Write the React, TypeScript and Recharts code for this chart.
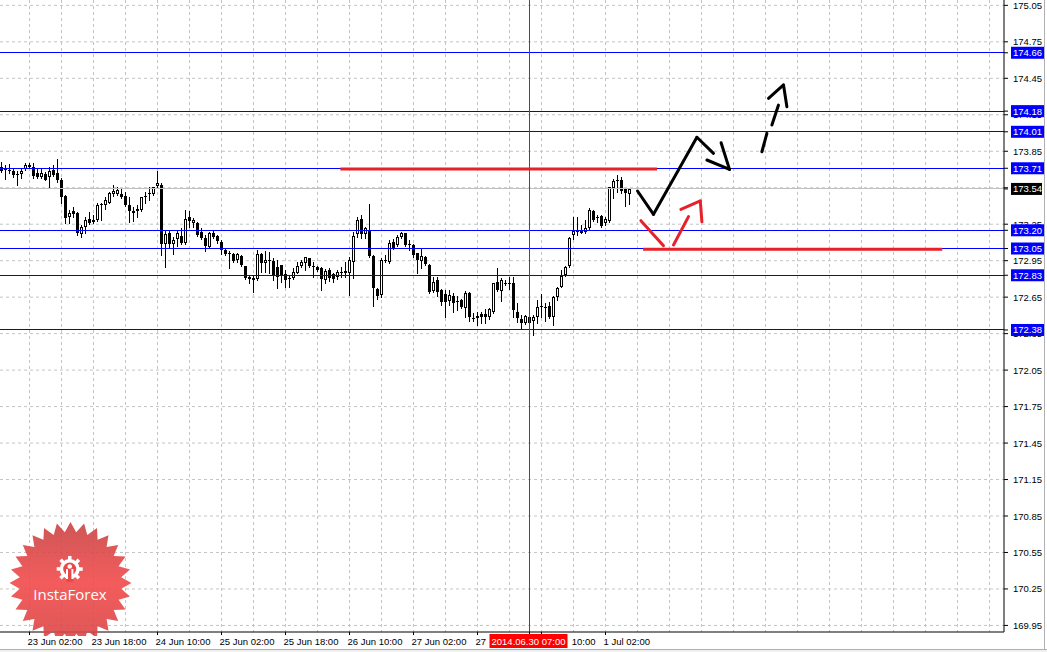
import React from "react";
import { ComposedChart, Bar, XAxis, YAxis, ReferenceLine, CartesianGrid } from "recharts";

// GBPJPY H1 candles
const opens = [
  173.717, 173.702, 173.696, 173.687, 173.662, 173.663, 173.701, 173.717, 173.723, 173.668,
  173.635, 173.663, 173.635, 173.696, 173.668, 173.613, 173.482, 173.312, 173.361, 173.345,
  173.169, 173.23, 173.293, 173.284, 173.284, 173.408, 173.408, 173.427, 173.495, 173.498,
  173.498, 173.482, 173.408, 173.361, 173.372, 173.367, 173.48, 173.495, 173.498, 173.564,
  173.572, 173.087, 173.18, 173.087, 173.125, 173.153, 173.092, 173.306, 173.257, 173.262,
  173.188, 173.133, 173.059, 173.18, 173.153, 173.106, 173.037, 173.016, 173.005, 172.955,
  172.988, 172.906, 172.818, 172.79, 172.796, 173.005, 172.928, 172.95, 172.95, 172.895,
  172.914, 172.84, 172.805, 172.804, 172.851, 172.906, 172.928, 172.969, 172.906, 172.9,
  172.89, 172.791, 172.873, 172.84, 172.813, 172.851, 172.868, 172.851, 172.942, 173.169,
  173.29, 173.169, 173.202, 172.988, 172.714, 172.668, 172.958, 172.942, 173.106, 173.079,
  173.142, 173.175, 173.09, 173.079, 173.01, 172.95, 172.983, 172.914, 172.703, 172.791,
  172.709, 172.676, 172.621, 172.659, 172.615, 172.627, 172.558, 172.687, 172.476, 172.476,
  172.514, 172.512, 172.49, 172.531, 172.778, 172.703, 172.77, 172.756, 172.769, 172.531,
  172.468, 172.435, 172.49, 172.457, 172.49, 172.577, 172.572, 172.577, 172.49, 172.654,
  172.736, 172.832, 172.906, 173.161, 173.197, 173.202, 173.189, 173.216, 173.361, 173.307,
  173.317, 173.257, 173.279, 173.545, 173.612, 173.614, 173.545, 173.498,
];
const highs = [
  173.764, 173.737, 173.745, 173.709, 173.69, 173.709, 173.75, 173.756, 173.75, 173.709,
  173.709, 173.682, 173.723, 173.737, 173.786, 173.627, 173.49, 173.367, 173.394, 173.353,
  173.243, 173.312, 173.353, 173.325, 173.421, 173.421, 173.476, 173.517, 173.572, 173.558,
  173.545, 173.517, 173.476, 173.394, 173.408, 173.476, 173.517, 173.558, 173.558, 173.69,
  173.586, 173.202, 173.202, 173.147, 173.202, 173.216, 173.366, 173.361, 173.298, 173.27,
  173.216, 173.161, 173.188, 173.202, 173.161, 173.12, 173.051, 173.032, 173.01, 173.01,
  172.996, 172.91, 172.822, 172.832, 173.037, 173.01, 173.032, 173.024, 172.969, 172.955,
  172.918, 172.873, 172.832, 172.887, 172.941, 172.955, 172.983, 172.973, 172.941, 172.906,
  172.9, 172.879, 172.887, 172.846, 172.873, 172.895, 172.942, 172.983, 173.188, 173.312,
  173.325, 173.23, 173.416, 172.996, 172.722, 172.969, 172.996, 173.12, 173.125, 173.161,
  173.188, 173.18, 173.12, 173.087, 173.016, 173.051, 172.987, 172.923, 172.813, 172.813,
  172.714, 172.709, 172.709, 172.681, 172.659, 172.631, 172.703, 172.695, 172.517, 172.53,
  172.527, 172.55, 172.558, 172.769, 172.887, 172.805, 172.791, 172.819, 172.819, 172.605,
  172.503, 172.503, 172.503, 172.503, 172.627, 172.676, 172.605, 172.613, 172.66, 172.737,
  172.873, 172.906, 173.142, 173.312, 173.306, 173.244, 173.285, 173.38, 173.367, 173.326,
  173.326, 173.312, 173.559, 173.619, 173.655, 173.641, 173.549, 173.545,
];
const lows = [
  173.682, 173.619, 173.668, 173.641, 173.575, 173.627, 173.696, 173.709, 173.627, 173.627,
  173.627, 173.61, 173.558, 173.646, 173.6, 173.427, 173.262, 173.262, 173.312, 173.161,
  173.142, 173.18, 173.251, 173.257, 173.279, 173.284, 173.372, 173.421, 173.482, 173.49,
  173.463, 173.4, 173.271, 173.279, 173.312, 173.361, 173.421, 173.449, 173.49, 173.558,
  172.997, 172.9, 173.051, 173.005, 173.07, 173.087, 173.087, 173.229, 173.229, 173.153,
  173.125, 173.032, 173.051, 173.133, 173.092, 173.005, 172.996, 172.887, 172.941, 172.941,
  172.906, 172.796, 172.763, 172.695, 172.791, 172.859, 172.859, 172.845, 172.791, 172.722,
  172.777, 172.736, 172.736, 172.796, 172.845, 172.895, 172.873, 172.895, 172.813, 172.867,
  172.71, 172.764, 172.785, 172.777, 172.796, 172.813, 172.818, 172.668, 172.805, 173.147,
  173.134, 173.134, 172.983, 172.577, 172.632, 172.648, 172.942, 172.933, 173.043, 173.07,
  173.134, 173.071, 173.038, 172.983, 172.851, 172.887, 172.914, 172.681, 172.695, 172.659,
  172.585, 172.489, 172.585, 172.531, 172.544, 172.558, 172.489, 172.457, 172.457, 172.421,
  172.435, 172.435, 172.468, 172.523, 172.703, 172.621, 172.75, 172.72, 172.49, 172.449,
  172.394, 172.429, 172.435, 172.339, 172.44, 172.49, 172.457, 172.476, 172.421, 172.627,
  172.731, 172.824, 172.901, 173.126, 173.161, 173.175, 173.18, 173.208, 173.279, 173.271,
  173.23, 173.244, 173.271, 173.463, 173.518, 173.504, 173.402, 173.416,
];
const closes = [
  173.69, 173.692, 173.685, 173.654, 173.658, 173.687, 173.737, 173.737, 173.646, 173.641,
  173.674, 173.613, 173.69, 173.654, 173.613, 173.471, 173.298, 173.345, 173.334, 173.175,
  173.224, 173.284, 173.257, 173.268, 173.408, 173.416, 173.449, 173.504, 173.526, 173.531,
  173.471, 173.408, 173.358, 173.339, 173.356, 173.471, 173.484, 173.509, 173.553, 173.586,
  173.087, 173.169, 173.087, 173.12, 173.174, 173.092, 173.29, 173.279, 173.284, 173.161,
  173.133, 173.07, 173.18, 173.142, 173.114, 173.037, 173.005, 173.013, 172.95, 173.005,
  172.914, 172.804, 172.796, 172.804, 173.005, 172.928, 172.955, 172.958, 172.832, 172.818,
  172.832, 172.791, 172.799, 172.859, 172.906, 172.941, 172.977, 172.906, 172.895, 172.873,
  172.8, 172.868, 172.805, 172.796, 172.86, 172.854, 172.846, 172.955, 173.153, 173.284,
  173.169, 173.216, 172.988, 172.722, 172.659, 172.955, 172.955, 173.092, 173.051, 173.147,
  173.18, 173.079, 173.082, 172.996, 172.955, 172.988, 172.923, 172.695, 172.777, 172.695,
  172.613, 172.613, 172.668, 172.599, 172.613, 172.566, 172.681, 172.484, 172.475, 172.495,
  172.49, 172.484, 172.55, 172.764, 172.709, 172.791, 172.769, 172.769, 172.545, 172.476,
  172.435, 172.495, 172.44, 172.484, 172.572, 172.58, 172.57, 172.484, 172.649, 172.723,
  172.824, 172.901, 173.134, 173.197, 173.194, 173.18, 173.216, 173.367, 173.285, 173.305,
  173.235, 173.29, 173.553, 173.608, 173.614, 173.526, 173.504, 173.54,
];

const SLOTS = 251; // bar slots across the plot, incl. empty future space
const yTicks = [
  175.05, 174.75, 174.45, 174.15, 173.85, 173.55, 173.25, 172.95, 172.65,
  172.35, 172.05, 171.75, 171.45, 171.15, 170.85, 170.55, 170.25, 169.95,
];
const hiddenYLabels = [173.55]; // fully covered by the bid box
const levels = [174.66, 174.18, 174.01, 173.71, 173.2, 173.05, 172.83, 172.38];
const bid = 173.54;
const xTickIdx = [7, 23, 39, 55, 71, 87, 103, 119, 135, 151];
const xTickLabels = [
  "23 Jun 02:00", "23 Jun 18:00", "24 Jun 10:00", "25 Jun 02:00", "25 Jun 18:00",
  "26 Jun 10:00", "27 Jun 02:00", "27", "10:00", "1 Jul 02:00",
];
const cursorIdx = 132;
const cursorLabel = "2014.06.30 07:00";
const gridX = Array.from({ length: 31 }, (_, k) => 7 + 8 * k);

// hand-drawn forecast marks, in (bar index, price)
const redLevels = [
  { from: 84.7, to: 163.9, price: 173.705 },
  { from: 160.4, to: 235.2, price: 173.045 },
];
const blackPath = [[159, 173.523], [163, 173.331], [173.85, 173.965], [178, 173.833]];
const blackHead = [[176.35, 173.778], [182, 173.701], [179.9, 173.92]];
const dashPieces = [
  [[190.1, 173.846], [191.35, 173.997]],
  [[192.6, 174.066], [194.25, 174.23]],
];
const dashHead = [[191.75, 174.285], [195.5, 174.395], [196.35, 174.216]];
const redPieces = [
  [[159.85, 173.279], [165.5, 173.073]],
  [[168, 173.079], [171.75, 173.312]],
];
const redHead = [[169.85, 173.372], [174.7, 173.441], [175.1, 173.27]];

const data = Array.from({ length: SLOTS }, (_, i) => ({
  i,
  o: opens[i],
  h: highs[i],
  l: lows[i],
  c: closes[i],
}));

const RED = "#e62129";
const BLUE = "#0000ff";
const FONT = "'Liberation Sans', Arial, sans-serif";

const segs = (pts: number[][]) => pts.slice(1).map((p, k) => [pts[k], p]);

const Candle = (props: any) => {
  const { x, y, width, height, payload } = props;
  if (!payload || payload.o === undefined || !(height > 0)) return <g />;
  const { o, h, l, c } = payload;
  const k = height / (h - l);
  const yOf = (p: number) => y + (h - p) * k;
  const cx = x + width / 2;
  const wx = cx - 0.5;
  const top = Math.round(yOf(Math.max(o, c)));
  const bot = Math.round(yOf(Math.min(o, c)));
  const bull = c > o;
  return (
    <g shapeRendering="crispEdges">
      <line x1={wx} x2={wx} y1={Math.round(yOf(h))} y2={Math.round(yOf(l)) + 1} stroke="#000" />
      {bull && bot - top >= 2 ? (
        <rect x={cx - 1.5} y={top + 0.5} width={2} height={bot - top - 1} fill="#fff" stroke="#000" />
      ) : (
        <rect x={cx - 2} y={top} width={3} height={Math.max(1, bot - top)} fill="#000" />
      )}
    </g>
  );
};

const XTick = (props: any) => {
  const { x, y, payload } = props;
  const v = payload.value;
  if (v === cursorIdx) {
    return (
      <g>
        <rect x={x - 40} y={y - 1} width={78} height={14} fill="#ff0000" />
        <text x={x - 1} y={y + 10} textAnchor="middle" fill="#fff" fontSize={9.5} fontFamily={FONT}>
          {cursorLabel}
        </text>
      </g>
    );
  }
  const k = xTickIdx.indexOf(v);
  const label = xTickLabels[k];
  // the label right of the cursor box only shows its tail
  if (label === "10:00") {
    return (
      <text x={x + 54} y={y + 10} textAnchor="end" fill="#000" fontSize={9.5} fontFamily={FONT}>
        {label}
      </text>
    );
  }
  return (
    <text x={x - 2} y={y + 10} fill="#000" fontSize={9.5} fontFamily={FONT}>
      {label}
    </text>
  );
};

const YTick = (props: any) => {
  const { x, y, payload } = props;
  const v = payload.value;
  const label = v.toFixed(2);
  if (v === bid || levels.includes(v)) {
    return (
      <g>
        <rect x={x - 1} y={y - 6} width={v === bid ? 31 : 33} height={12} fill={v === bid ? "#000" : BLUE} />
        <text x={x + 1} y={y + 3.5} fill="#fff" fontSize={9.5} fontFamily={FONT}>
          {label}
        </text>
      </g>
    );
  }
  if (hiddenYLabels.includes(v)) return <g />;
  return (
    <text x={x + 1} y={y + 3.5} fill="#000" fontSize={9.5} fontFamily={FONT}>
      {label}
    </text>
  );
};

const Logo = () => {
  const cx = 70.5;
  const cy = 583;
  const n = 28;
  const pts: string[] = [];
  for (let k = 0; k < n * 2; k++) {
    const r = k % 2 === 0 ? 61 : 51;
    const a = (Math.PI * k) / n - Math.PI / 2;
    pts.push(`${(cx + r * Math.cos(a)).toFixed(1)},${(cy + r * Math.sin(a)).toFixed(1)}`);
  }
  const teeth = Array.from({ length: 8 }, (_, k) => k * 45);
  return (
    <svg width={1047} height={652} style={{ position: "absolute", left: 0, top: 0, pointerEvents: "none" }}>
      <defs>
        <linearGradient id="starFill" x1="0" y1="0" x2="0" y2="1">
          <stop offset="0%" stopColor="#c94444" />
          <stop offset="50%" stopColor="#f24a4a" />
          <stop offset="100%" stopColor="#d84545" />
        </linearGradient>
        <clipPath id="logoClip">
          <rect x={0} y={0} width={200} height={636} />
        </clipPath>
      </defs>
      <g clipPath="url(#logoClip)">
        <polygon points={pts.join(" ")} fill="url(#starFill)" fillOpacity={0.9} />
        <g fill="#fff">
          {teeth.map((a) => (
            <rect key={a} x={68} y={556} width={3.5} height={5} transform={`rotate(${a} 69.7 569)`} />
          ))}
          <circle cx={69.7} cy={569} r={10} fill="#fff" />
          <circle cx={69.7} cy={569} r={6.5} fill="#e84848" />
          <rect x={66.5} y={574} width={6.5} height={8} fill="#e84848" />
          <circle cx={69.7} cy={566.5} r={2.3} />
          <rect x={66} y={569} width={2} height={10} />
          <rect x={71.4} y={569} width={2} height={10} />
        </g>
        <text x={70} y={600} textAnchor="middle" fill="#fff" fontSize={15} fontFamily="'Open Sans', sans-serif">
          InstaForex
        </text>
      </g>
    </svg>
  );
};

export default function App() {
  return (
    <div style={{ position: "absolute", left: 0, top: 0, width: 1047, height: 652, background: "#fff" }}>
      <ComposedChart
        width={1047}
        height={652}
        data={data}
        margin={{ top: 0, right: 0, bottom: 0, left: 0 }}
        barCategoryGap={0}
        barGap={0}
      >
        <CartesianGrid
          stroke="#c4c4c4"
          strokeDasharray="3 3"
          horizontalValues={yTicks}
          verticalValues={gridX}
        />
        <XAxis xAxisId="c" dataKey="i" type="category" hide />
        <XAxis
          xAxisId={0}
          dataKey="i"
          type="number"
          domain={[-0.375, SLOTS - 0.375]}
          allowDataOverflow
          ticks={[...xTickIdx, cursorIdx]}
          interval={0}
          height={20}
          tickSize={3}
          tickMargin={0}
          tick={<XTick />}
          axisLine={{ stroke: "#000" }}
          tickLine={{ stroke: "#000" }}
        />
        <YAxis
          orientation="right"
          type="number"
          domain={[169.896, 175.094]}
          allowDataOverflow
          ticks={[...yTicks, bid, ...levels]}
          interval={0}
          width={43}
          tickSize={4}
          tickMargin={4}
          tick={<YTick />}
          axisLine={{ stroke: "#000" }}
          tickLine={{ stroke: "#000" }}
        />
        <ReferenceLine y={bid} stroke="#c0c0c0" shapeRendering="crispEdges" />
        {levels.map((v) => (
          <ReferenceLine key={v} y={v} stroke={BLUE} shapeRendering="crispEdges" />
        ))}
        <Bar
          xAxisId="c"
          dataKey={(d: any) => (d.h === undefined ? null : [d.l, d.h])}
          shape={(p: any) => <Candle {...p} />}
          isAnimationActive={false}
        />
        <ReferenceLine x={cursorIdx} stroke="#e01010" shapeRendering="crispEdges" />
        {redLevels.map((r) => (
          <ReferenceLine
            key={r.from}
            segment={[{ x: r.from, y: r.price }, { x: r.to, y: r.price }]}
            stroke={RED}
            strokeWidth={3}
          />
        ))}
        {[...segs(blackPath), ...segs(blackHead), ...dashPieces, ...segs(dashHead)].map((s, k) => (
          <ReferenceLine
            key={`b${k}`}
            segment={[{ x: s[0][0], y: s[0][1] }, { x: s[1][0], y: s[1][1] }]}
            stroke="#000"
            strokeWidth={3}
            strokeLinecap="round"
          />
        ))}
        {[...redPieces, ...segs(redHead)].map((s, k) => (
          <ReferenceLine
            key={`r${k}`}
            segment={[{ x: s[0][0], y: s[0][1] }, { x: s[1][0], y: s[1][1] }]}
            stroke={RED}
            strokeWidth={3}
            strokeLinecap="round"
          />
        ))}
      </ComposedChart>
      <Logo />
      <div style={{ position: "absolute", left: 1044, top: 0, width: 1, height: 650, background: "#b0b0b0" }} />
      <div style={{ position: "absolute", left: 0, top: 649, width: 1047, height: 3, background: "#f0f0f0", borderTop: "1px solid #b0b0b0" }} />
    </div>
  );
}
